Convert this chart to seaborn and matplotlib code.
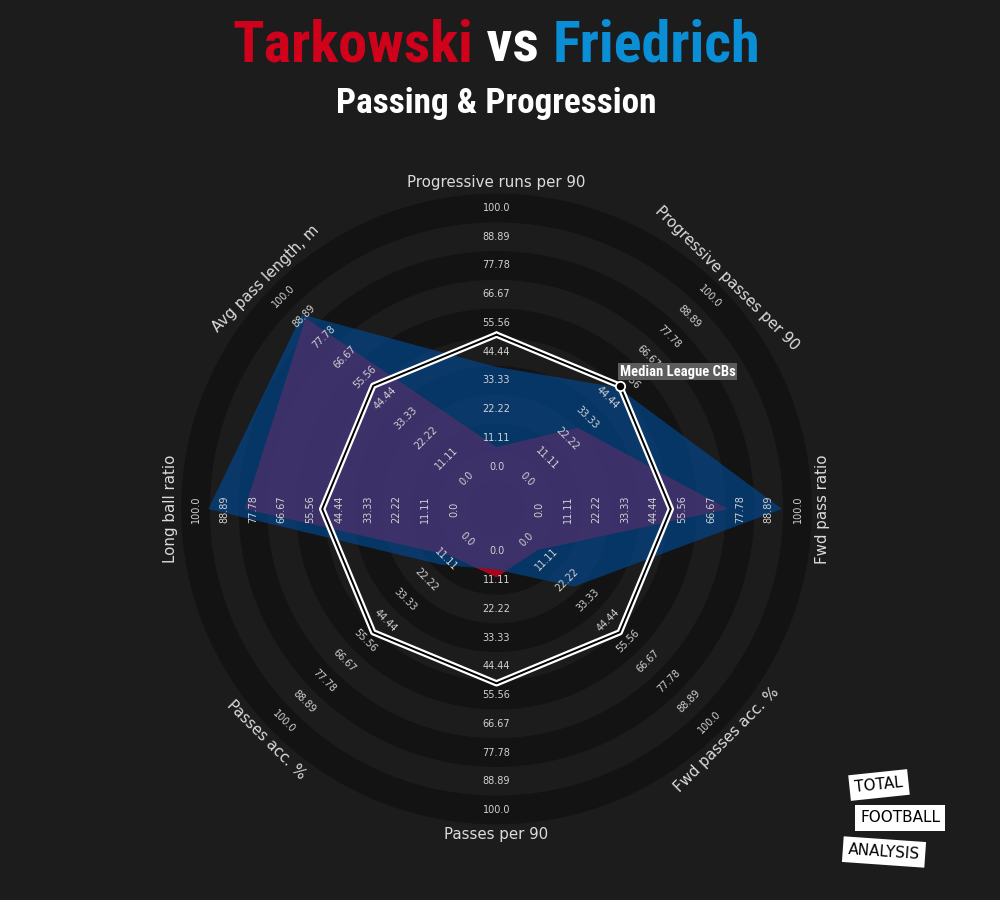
import numpy as np
import matplotlib
matplotlib.use("Agg")
import matplotlib.pyplot as plt
from matplotlib import font_manager as fm
from matplotlib.patches import Circle
import seaborn as sns
import pandas as pd

# ---------------- data ----------------
params = ["Progressive runs per 90", "Progressive passes per 90", "Fwd pass ratio",
          "Fwd passes acc. %", "Passes per 90", "Passes acc. %", "Long ball ratio",
          "Avg pass length, m"]
tarkowski = [7.5, 28, 73, 6, 10, 9, 81, 88]
friedrich = [38.5, 50, 94, 26, 7, 14, 95, 90]
median_cbs = [51, 51, 51, 51, 51, 51, 51, 51]
range_ticks = ["0.0", "11.11", "22.22", "33.33", "44.44", "55.56", "66.67", "77.78", "88.89", "100.0"]
players = ["Tarkowski", "Friedrich"]
title_mid = " vs "
subtitle = "Passing & Progression"
median_label = "Median League CBs"
logo_words = ["TOTAL", "FOOTBALL", "ANALYSIS"]

# ---------------- style ----------------
sns.set_theme(style="dark")
plt.rcParams['font.family'] = ['DejaVu Sans']
BG = "#1c1c1c"
DARK = "#131313"
RED = "#d0021b"
BLUE_T = "#0a8fd6"
BLUE_F = "#004a95"
TXT = "#dcdcdc"

names = {f.name for f in fm.fontManager.ttflist}
cond_font = None
for cand in ["Liberation Sans Narrow", "DejaVu Sans Condensed", "Roboto Condensed",
             "Open Sans Condensed", "Roboto", "Liberation Sans"]:
    if cand in names:
        cond_font = cand
        break
if cond_font is None:
    cond_font = "DejaVu Sans"

W, H = 1000, 900
CX, CY = 496.5, 509.0
R0, R100 = 42.5, 301.0
step = (R100 - R0) / 9.0


def rad(v):
    return R0 + (np.asarray(v, dtype=float) / 100.0) * (R100 - R0)


angles = np.deg2rad(90 - 45 * np.arange(len(params)))

fig = plt.figure(figsize=(10, 9), dpi=100, facecolor=BG)
ax = fig.add_axes([0, 0, 1, 1])
ax.set_facecolor(BG)
ax.set_xlim(-CX, W - CX)
ax.set_ylim(-(H - CY), CY)
ax.set_aspect('equal')
ax.axis('off')

# concentric bands (labels at band centres)
bounds = [R0 + (k + 0.5) * step for k in range(-1, 10)]
for j in range(len(bounds) - 1, -1, -1):
    col = DARK if (len(bounds) - 1 - j) % 2 == 0 else BG
    ax.add_patch(Circle((0, 0), bounds[j], fc=col, ec='none', zorder=1))
ax.add_patch(Circle((0, 0), bounds[0], fc=DARK, ec='none', zorder=1))


def poly(vals):
    r = rad(vals)
    x = r * np.cos(angles)
    y = r * np.sin(angles)
    return np.append(x, x[0]), np.append(y, y[0])


xt, yt = poly(tarkowski)
xf, yf = poly(friedrich)
ax.fill(xt, yt, color=RED, alpha=0.78, lw=0, zorder=2)
ax.fill(xf, yf, color=BLUE_F, alpha=0.64, lw=0, zorder=3)

# range labels
for i, a in enumerate(angles):
    deg = np.rad2deg(a)
    rot = deg - 90
    while rot <= -90:
        rot += 180
    while rot > 90:
        rot -= 180
    for k, lab in enumerate(range_ticks):
        r = R0 + k * step
        ax.text(r * np.cos(a), r * np.sin(a), lab, rotation=rot, ha='center', va='center',
                rotation_mode='anchor', fontsize=7, color="#d2d2d2", zorder=5)
    rp = 326
    ax.text(rp * np.cos(a), rp * np.sin(a), params[i], rotation=rot, ha='center', va='center',
            rotation_mode='anchor', fontsize=10.8, color=TXT, zorder=5)

# median polygon with seaborn
xm, ym = poly(median_cbs)
mdf = pd.DataFrame({"x": xm, "y": ym})
sns.lineplot(data=mdf, x="x", y="y", sort=False, estimator=None, color="white",
             lw=4.6, ax=ax, zorder=6)
sns.lineplot(data=mdf, x="x", y="y", sort=False, estimator=None, color="black",
             lw=1.4, ax=ax, zorder=7)
sns.scatterplot(x=[xm[1]], y=[ym[1]], s=45, color="black", edgecolor="white",
                linewidth=1.3, ax=ax, zorder=8)
ax.text(xm[1] + 0, ym[1] + 7, median_label, ha='left', va='bottom', fontsize=10.5,
        fontweight='bold', family=cond_font, color="white", zorder=9,
        bbox=dict(boxstyle='square,pad=0.12', fc="#5c5c5c", ec='none'))
ax.set_xlabel("")
ax.set_ylabel("")
ax.set_xlim(-CX, W - CX)
ax.set_ylim(-(H - CY), CY)

# title
fig.canvas.draw()
renderer = fig.canvas.get_renderer()


def fit_line(parts, colors, target_w, baseline, size0):
    texts = [fig.text(0, 0, p, fontsize=size0, fontweight='bold', family=cond_font,
                      color=c, ha='left', va='baseline') for p, c in zip(parts, colors)]
    widths = [t.get_window_extent(renderer).width for t in texts]
    size = size0 * target_w / sum(widths)
    for t in texts:
        t.set_fontsize(size)
    widths = [t.get_window_extent(renderer).width for t in texts]
    x = CX - sum(widths) / 2.0
    for t, w in zip(texts, widths):
        t.set_position((x / W, 1 - baseline / H))
        x += w
    return texts


fit_line([players[0], title_mid, players[1]], [RED, "white", BLUE_T], 527, 62, 40)
fit_line([subtitle], ["white"], 321, 113, 26)

# logo
logo_pos = [(879, 785, 6), (900, 818, 0), (884, 852, -4)]
for w, (lx, ly, lr) in zip(logo_words, logo_pos):
    fig.text(lx / W, 1 - ly / H, w, ha='center', va='center', rotation=lr, fontsize=11,
             color="black", family="DejaVu Sans",
             bbox=dict(boxstyle='square,pad=0.35', fc="white", ec='none'))

fig.savefig("out.png", dpi=100, facecolor=BG)
